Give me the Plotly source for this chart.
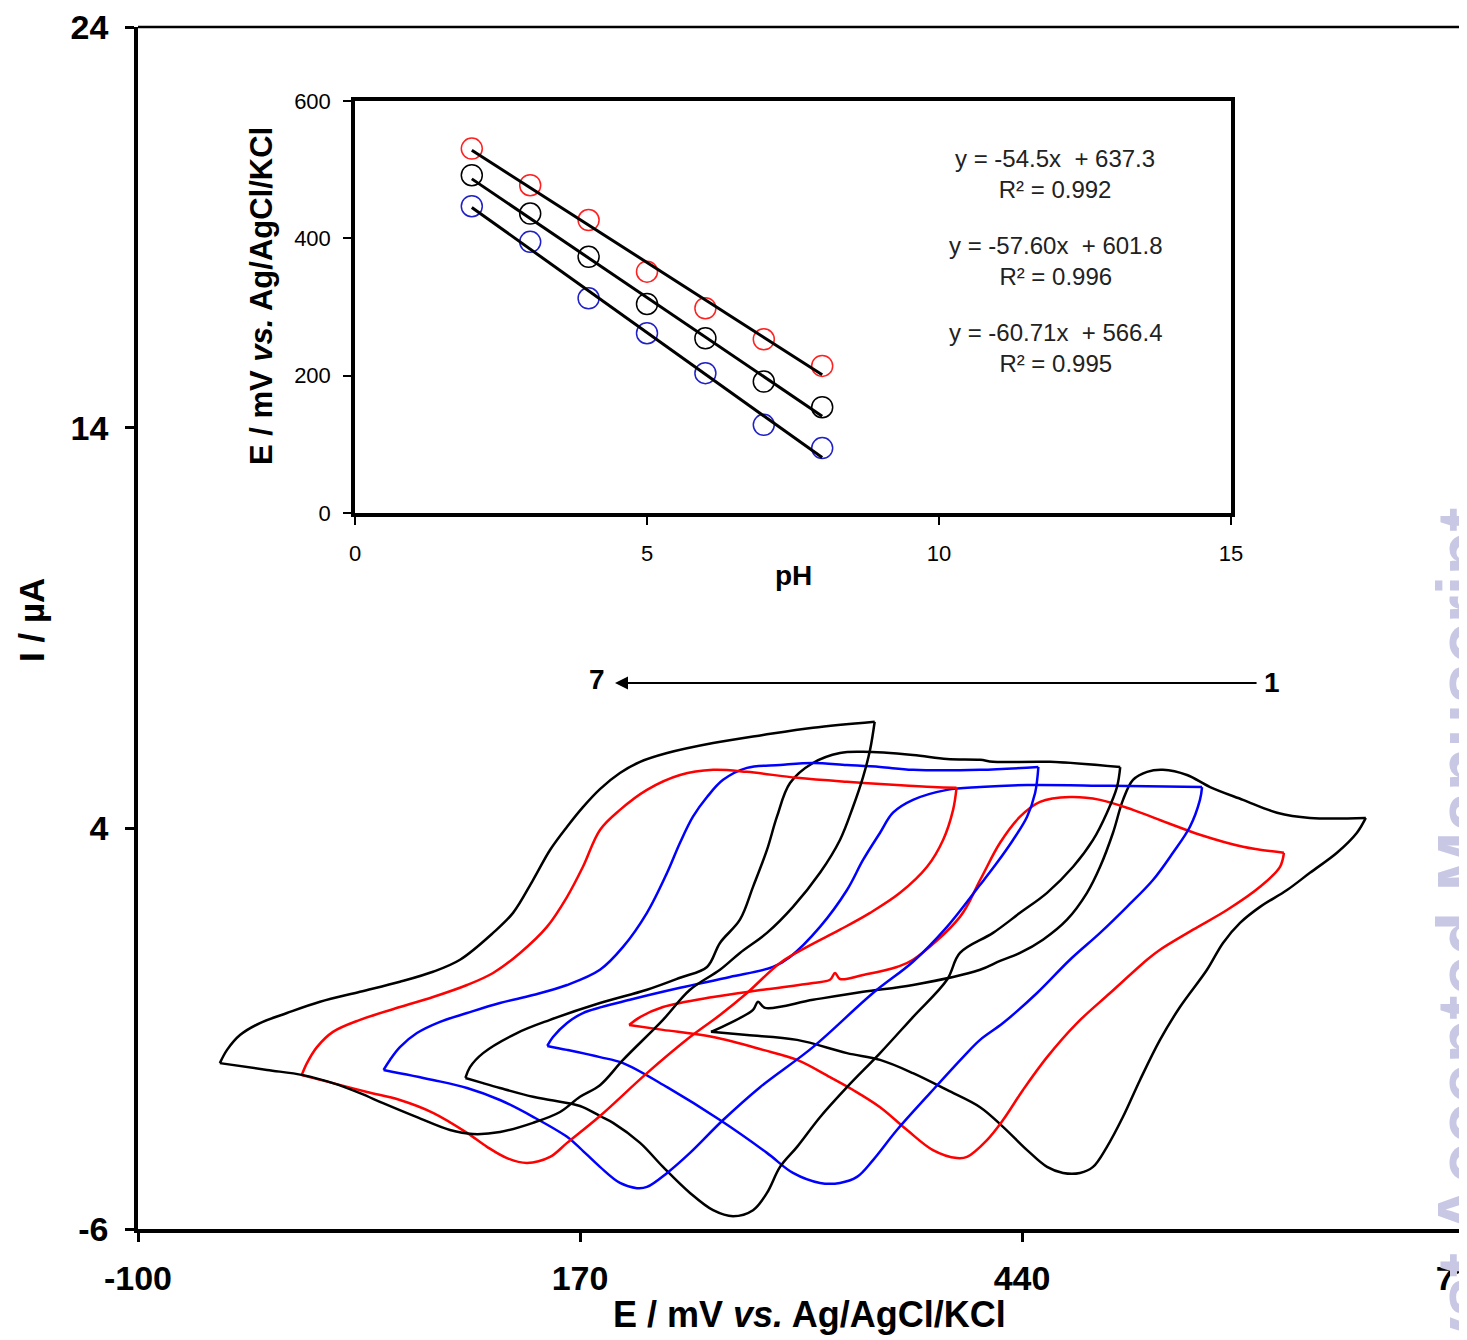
import plotly.graph_objects as go

# ---------------- Main CV data (E / mV, I / uA); loops 1 (right) ... 7 (left) ----------------
# loop 1 (black)
E1_up = [250, 261.6, 275.7, 278.7, 283.0, 312.3, 342.9, 373.4, 414.4, 426.6, 438.8, 452.8, 467.5, 479.7, 487.7,
         495.6, 501.7, 507.8, 516.4, 526.1, 540.8, 554.9, 575.0, 595.8, 615.9, 650]
I1_up = [-1.08, -0.86, -0.53, -0.33, -0.48, -0.28, -0.08, 0.09, 0.47, 0.69, 0.89, 1.22, 1.72, 2.39, 3.04,
         3.89, 4.71, 5.21, 5.41, 5.46, 5.33, 5.03, 4.71, 4.39, 4.26, 4.26]
E1_dn = [650, 644.6, 632.4, 615.9, 601.9, 585.4, 573.2, 562.8, 553.0, 536.5, 524.3, 512.1, 501.7, 491.9, 483.4,
         475.4, 465.1, 455.3, 443.1, 428.4, 414.4, 394.2, 373.4, 353.3, 333.1, 302.6, 272.0, 250]
I1_dn = [4.26, 3.89, 3.39, 2.89, 2.46, 2.04, 1.64, 1.14, 0.47, -0.46, -1.28, -2.28, -3.20, -3.95, -4.45,
         -4.60, -4.60, -4.45, -4.03, -3.45, -2.96, -2.53, -2.11, -1.78, -1.61, -1.28, -1.16, -1.08]
# loop 2 (red)
E2_up = [200, 206.7, 220.7, 251.3, 281.8, 312.3, 322.7, 325.8, 328.8, 342.9, 363.6, 373.4, 402.1, 414.4, 426.6,
         438.8, 451.0, 469.3, 487.7, 507.8, 528.6, 548.7, 575.0, 600]
I2_up = [-0.91, -0.71, -0.46, -0.21, -0.03, 0.14, 0.22, 0.39, 0.24, 0.34, 0.54, 0.72, 1.79, 2.71, 3.64,
         4.29, 4.66, 4.78, 4.71, 4.46, 4.14, 3.84, 3.54, 3.39]
E2_dn = [600, 597.6, 585.4, 565.2, 544.5, 524.3, 516.4, 493.8, 473.6, 455.3, 440.6, 428.4, 418.6, 406.4, 400.3,
         385.6, 369.8, 353.3, 336.8, 322.7, 302.6, 281.8, 251.3, 220.7, 200]
I2_dn = [3.39, 3.04, 2.54, 1.96, 1.47, 0.97, 0.72, -0.11, -0.86, -1.71, -2.53, -3.28, -3.78, -4.20, -4.23,
         -4.03, -3.53, -2.96, -2.53, -2.21, -1.78, -1.53, -1.21, -1.03, -0.91]
# loop 3 (blue)
E3_up = [150, 153.5, 162.1, 171.8, 200.5, 231.1, 261.6, 287.9, 298.3, 316.6, 333.1, 342.9, 353.3, 361.2, 373.4,
         394.2, 414.4, 443.1, 493.8, 550]
I3_up = [-1.43, -1.21, -0.86, -0.61, -0.28, 0.02, 0.29, 0.54, 0.79, 1.54, 2.46, 3.21, 3.89, 4.39, 4.71,
         4.96, 5.03, 5.08, 5.06, 5.03]
E3_dn = [550, 548.7, 542.6, 532.2, 520.0, 504.1, 487.7, 469.3, 449.2, 428.4, 414.4, 404.0, 383.8, 363.6, 349.0,
         339.2, 328.8, 316.6, 300.1, 284.2, 255.5, 223.2, 196.3, 182.2, 162.1, 150]
I3_dn = [5.03, 4.71, 4.04, 3.39, 2.71, 2.04, 1.39, 0.72, -0.11, -0.86, -1.28, -1.71, -2.61, -3.53, -4.28,
         -4.70, -4.85, -4.85, -4.60, -4.10, -3.28, -2.46, -1.86, -1.71, -1.53, -1.43]
# loop 4 (black)
E4_up = [100, 102.8, 110.8, 131.5, 151.7, 182.2, 210.9, 231.1, 247.6, 255.5, 267.7, 275.7, 284.2, 290.3, 298.3,
         312.3, 328.8, 342.9, 373.4, 394.2, 414.4, 422.3, 457.1, 500]
I4_up = [-2.23, -1.96, -1.61, -1.11, -0.78, -0.36, -0.03, 0.27, 0.54, 1.14, 1.72, 2.54, 3.46, 4.29, 5.13,
         5.63, 5.88, 5.91, 5.83, 5.73, 5.71, 5.66, 5.66, 5.53]
E4_dn = [500, 498.0, 491.9, 483.4, 471.2, 455.3, 438.8, 422.3, 402.1, 394.2, 373.4, 353.3, 333.1, 316.6, 302.6,
         292.2, 284.2, 275.7, 263.5, 251.3, 237.2, 220.7, 206.7, 190.2, 182.2, 170.0, 151.7, 141.3, 121.1,
         110.8, 100]
I4_dn = [5.53, 5.03, 4.39, 3.71, 3.04, 2.39, 1.89, 1.39, 0.89, 0.22, -0.71, -1.61, -2.46, -3.21, -3.95,
         -4.45, -5.10, -5.53, -5.68, -5.53, -5.10, -4.45, -3.85, -3.35, -3.18, -2.93, -2.78, -2.70, -2.48,
         -2.36, -2.23]
# loop 5 (blue)
E5_up = [50, 53.9, 60.0, 70.4, 84.5, 101.0, 121.1, 141.3, 162.1, 182.2, 196.3, 210.9, 223.2, 231.1, 239.0,
         247.6, 257.4, 272.0, 292.2, 312.3, 333.1, 353.3, 373.4, 414.4, 450]
I5_up = [-2.03, -1.78, -1.46, -1.11, -0.83, -0.61, -0.36, -0.16, 0.09, 0.47, 1.04, 1.89, 2.89, 3.64, 4.29,
         4.78, 5.21, 5.51, 5.58, 5.63, 5.58, 5.53, 5.46, 5.46, 5.53]
E5_dn = [450, 448.0, 443.1, 434.5, 424.7, 414.4, 394.2, 373.4, 349.0, 312.3, 280.0, 257.4, 237.2, 223.2, 210.9,
         204.8, 194.4, 182.2, 170.0, 162.1, 141.3, 121.1, 101.0, 80.2, 50]
I5_dn = [5.53, 4.88, 4.29, 3.71, 3.14, 2.59, 1.54, 0.67, -0.11, -1.46, -2.46, -3.28, -4.10, -4.60, -4.95,
         -4.98, -4.85, -4.45, -3.98, -3.70, -3.20, -2.78, -2.48, -2.28, -2.03]
# loop 6 (red)
E6_up = [0, 3.2, 9.3, 19.1, 35.6, 60.0, 80.2, 101.0, 116.9, 133.4, 149.8, 162.1, 171.8, 182.2, 194.4,
         210.9, 231.1, 251.3, 272.0, 302.6, 333.1, 363.6, 385.6, 400]
I6_up = [-2.16, -1.86, -1.46, -1.08, -0.78, -0.46, -0.21, 0.09, 0.39, 0.89, 1.54, 2.29, 3.04, 3.96, 4.46,
         4.96, 5.33, 5.46, 5.41, 5.26, 5.16, 5.08, 5.03, 5.01]
E6_dn = [400, 397.9, 391.8, 382.0, 365.5, 347.2, 328.8, 308.7, 292.2, 272.0, 255.5, 237.2, 210.9, 182.2, 162.1,
         151.7, 137.6, 125.4, 113.2, 101.0, 80.2, 60.0, 39.9, 19.1, 0]
I6_dn = [5.01, 4.46, 3.71, 3.04, 2.39, 1.89, 1.47, 1.04, 0.64, -0.11, -0.66, -1.21, -2.11, -3.18, -3.85,
         -4.20, -4.35, -4.23, -3.95, -3.60, -3.10, -2.78, -2.58, -2.36, -2.16]
# loop 7 (black)
E7_up = [-50, -45.6, -37.7, -25.5, -9.0, 11.2, 35.6, 60.0, 80.2, 96.7, 116.9, 129.1, 141.3, 151.7, 162.1,
         171.8, 182.2, 194.4, 206.7, 223.2, 251.3, 281.8, 312.3, 350]
I7_up = [-1.86, -1.53, -1.16, -0.86, -0.61, -0.33, -0.08, 0.17, 0.42, 0.72, 1.39, 1.89, 2.71, 3.46, 4.04,
         4.53, 4.98, 5.38, 5.66, 5.88, 6.13, 6.33, 6.51, 6.66]
E7_dn = [350, 347.2, 342.9, 336.8, 328.8, 316.6, 300.1, 284.2, 267.7, 255.5, 237.2, 220.7, 196.3, 182.2, 170.0,
         157.8, 141.3, 121.1, 104.6, 90.6, 70.4, 49.7, 35.6, 19.1, 0.8, -21.2, -50]
I7_dn = [6.66, 5.96, 5.28, 4.54, 3.71, 2.89, 2.04, 1.39, 0.89, 0.47, -0.03, -0.78, -1.78, -2.41, -2.70,
         -3.08, -3.35, -3.58, -3.63, -3.53, -3.21, -2.86, -2.61, -2.36, -2.16, -2.03, -1.86]

loop_colors = ["#000000", "#ff0000", "#0000ff", "#000000", "#0000ff", "#ff0000", "#000000"]

x_ticks = [-100, 170, 440, 710]
x_ticktext = ["-100", "170", "440", "710"]
y_ticks = [-6, 4, 14, 24]
y_ticktext = ["-6", "4", "14", "24"]

# ---------------- Inset data ----------------
pH = [2, 3, 4, 5, 6, 7, 8]
E_red = [530.7, 477.4, 426.6, 351.5, 298.2, 253.0, 214.2]
E_black = [491.9, 436.1, 373.1, 304.4, 254.4, 191.4, 154.1]
E_blue = [446.8, 394.9, 312.7, 261.8, 203.7, 128.4, 94.5]
fit_pH = [2, 8]
fit_red = [528.3, 201.3]
fit_black = [486.6, 141.0]
fit_blue = [445.0, 80.7]
eq_texts = ["y = -54.5x  + 637.3<br>R\u00b2 = 0.992",
            "y = -57.60x  + 601.8<br>R\u00b2 = 0.996",
            "y = -60.71x  + 566.4<br>R\u00b2 = 0.995"]

FONT = "Liberation Sans, Arial, sans-serif"

fig = go.Figure()

loops = [(E1_up, I1_up, E1_dn, I1_dn), (E2_up, I2_up, E2_dn, I2_dn), (E3_up, I3_up, E3_dn, I3_dn),
         (E4_up, I4_up, E4_dn, I4_dn), (E5_up, I5_up, E5_dn, I5_dn), (E6_up, I6_up, E6_dn, I6_dn),
         (E7_up, I7_up, E7_dn, I7_dn)]
for (eu, iu, ed, idn), col in zip(loops, loop_colors):
    for ex, iy in ((eu, iu), (ed, idn)):
        fig.add_trace(go.Scatter(x=ex, y=iy, mode="lines", xaxis="x", yaxis="y",
                                 line=dict(color=col, width=2.5, shape="spline", smoothing=1.0),
                                 showlegend=False, hoverinfo="skip"))

# inset markers and fit lines
for vals, col in ((E_red, "#ff2020"), (E_black, "#000000"), (E_blue, "#2020c8")):
    fig.add_trace(go.Scatter(x=pH, y=vals, mode="markers", xaxis="x2", yaxis="y2",
                             marker=dict(symbol="circle-open", size=21, color=col, line=dict(width=1.5, color=col)),
                             showlegend=False, hoverinfo="skip"))
for vals in (fit_red, fit_black, fit_blue):
    fig.add_trace(go.Scatter(x=fit_pH, y=vals, mode="lines", xaxis="x2", yaxis="y2",
                             line=dict(color="black", width=3), showlegend=False, hoverinfo="skip"))

# page has an 8 px body margin: figure is drawn from page (8, 8)
OFF = 8
W, H = 1467 - OFF, 1340 - OFF
PL, PR, PT, PB = 138, 1464, 27, 1229          # plot area in page pixels
L, R, T, B = PL - OFF, (W + OFF) - PR, PT - OFF, (H + OFF) - PB


def px(x):
    return (x - PL) / (PR - PL)


def py(y):
    return (PB - y) / (PB - PT)


ann = []
# main axis titles
ann.append(dict(text="<b>E / mV <i>vs.</i> Ag/AgCl/KCl</b>", xref="paper", yref="paper",
                x=px(809), y=py(1314), xanchor="center", yanchor="middle",
                showarrow=False, font=dict(family=FONT, size=36, color="black")))
ann.append(dict(text="<b>I / \u00b5A</b>", xref="paper", yref="paper", textangle=-90,
                x=px(31), y=py(620), xanchor="center", yanchor="middle",
                showarrow=False, font=dict(family=FONT, size=35, color="black")))
# arrow 1 -> 7
ann.append(dict(x=191.4, y=7.63, ax=584.2, ay=7.63, xref="x", yref="y", axref="x", ayref="y",
                text="", showarrow=True, arrowhead=2, arrowsize=1.3, arrowwidth=2, arrowcolor="black"))
ann.append(dict(x=180.4, y=7.72, xref="x", yref="y", text="<b>7</b>", showarrow=False,
                font=dict(family=FONT, size=28, color="black")))
ann.append(dict(x=592.7, y=7.63, xref="x", yref="y", text="<b>1</b>", showarrow=False,
                font=dict(family=FONT, size=28, color="black")))
# inset titles
ann.append(dict(x=px(793), y=py(575), xref="paper", yref="paper", text="<b>pH</b>", showarrow=False,
                xanchor="center", yanchor="middle", font=dict(family=FONT, size=28, color="black")))
ann.append(dict(x=px(261), y=py(296), xref="paper", yref="paper", text="<b>E / mV <i>vs.</i> Ag/AgCl/KCl</b>",
                textangle=-90, showarrow=False, xanchor="center", yanchor="middle",
                font=dict(family=FONT, size=31, color="black")))
# equations
for txt, yy in zip(eq_texts, [493.7, 367.0, 240.3]):
    ann.append(dict(x=11.99, y=yy, xref="x2", yref="y2", text=txt, showarrow=False, align="center",
                    font=dict(family=FONT, size=24, color="#222222")))
# watermark (cut by the right edge, as in the reference)
ann.append(dict(text="<b>Analyst Accepted Manuscript</b>", xref="paper", yref="paper", textangle=-90,
                x=px(1421), y=py(505), xanchor="left", yanchor="top",
                showarrow=False, font=dict(family=FONT, size=72, color="rgb(200,200,228)")))

fig.update_layout(
    width=W, height=H,
    margin=dict(l=L, r=R, t=T, b=B, autoexpand=False),
    paper_bgcolor="white", plot_bgcolor="white",
    showlegend=False,
    xaxis=dict(domain=[0, 1], range=[-100, 710], tickvals=x_ticks, ticktext=x_ticktext, ticks="outside",
               ticklen=9, tickwidth=3, tickcolor="black", showline=True, linewidth=3.5, linecolor="black",
               showgrid=False, zeroline=False, automargin=False, ticklabelstandoff=7,
               ticklabeloverflow="allow",
               tickfont=dict(family=FONT, size=34, color="black", weight="bold")),
    yaxis=dict(domain=[0, 1], range=[-6, 24], tickvals=y_ticks, ticktext=y_ticktext, ticks="outside",
               ticklen=9, tickwidth=3, tickcolor="black", showline=True, linewidth=3.5, linecolor="black",
               showgrid=False, zeroline=False, automargin=False, ticklabelstandoff=10,
               ticklabeloverflow="allow",
               tickfont=dict(family=FONT, size=34, color="black", weight="bold")),
    xaxis2=dict(domain=[px(355), px(1231)], anchor="y2", range=[0, 15],
                tickvals=[0, 5, 10, 15], ticks="outside", ticklen=8, tickwidth=2, tickcolor="black",
                showline=True, mirror=True, linewidth=3.5, linecolor="black", showgrid=False, zeroline=False,
                automargin=False, ticklabelstandoff=10,
                tickfont=dict(family=FONT, size=22, color="black")),
    yaxis2=dict(domain=[py(513), py(101)], anchor="x2",
                range=[0, 600], tickvals=[0, 200, 400, 600], ticks="outside", ticklen=8, tickwidth=2,
                tickcolor="black", showline=True, mirror=True, linewidth=3.5, linecolor="black",
                showgrid=False, zeroline=False, automargin=False, ticklabelstandoff=8,
                tickfont=dict(family=FONT, size=22, color="black")),
    annotations=ann,
    shapes=[dict(type="line", xref="paper", yref="paper", x0=0, x1=1, y0=1, y1=1,
                 line=dict(color="black", width=2.5)),
            dict(type="line", xref="paper", yref="paper", x0=1, x1=1, y0=0, y1=1,
                 line=dict(color="black", width=3))],
)

fig.write_html("out.html")
